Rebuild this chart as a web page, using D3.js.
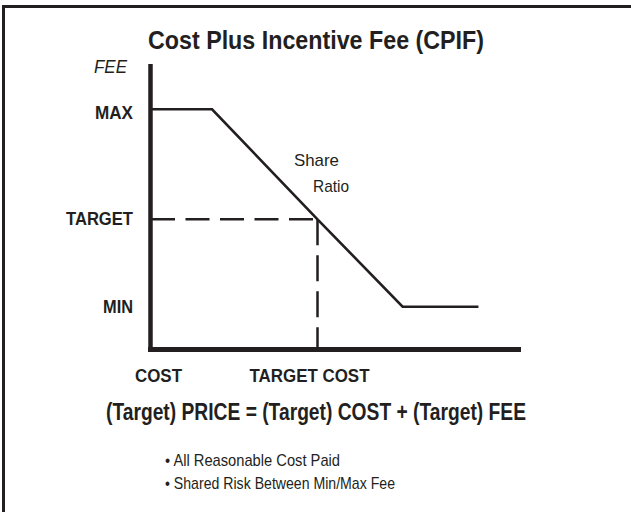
<!DOCTYPE html>
<html>
<head>
<meta charset="utf-8">
<script src="https://cdn.jsdelivr.net/npm/d3@7"></script>
<style>
  body { margin: 0; background: #fff; }
  svg { display: block; }
  text { font-family: "Liberation Sans Narrow", "Arial Narrow", "Liberation Sans", Arial, sans-serif; fill: #231f20; }
</style>
</head>
<body>
<div id="chart"></div>
<script>
// fee curve: cost (0-100) vs fee (0-100)
const curveCost = [0, 16.5, 45, 68, 88.5];
const curveFee = [85, 85, 46, 15, 15];
const feeLevels = ["MAX", "TARGET", "MIN"];
const feeValues = [85, 46, 15];
const costLabels = ["COST", "TARGET COST"];
const costValues = [0, 45];
const targetCost = 45;
const targetFee = 46;
const bullets = ["All Reasonable Cost Paid", "Shared Risk Between Min/Max Fee"];

const width = 631, height = 512;
const ink = "#231f20";

const svg = d3.select("#chart").append("svg")
  .attr("width", width)
  .attr("height", height);

// squeeze text to the condensed face of the original
function fit(sel, len) {
  sel.attr("textLength", len).attr("lengthAdjust", "spacingAndGlyphs");
  return sel;
}

// frame (only top and left edges show in the picture)
svg.append("rect")
  .attr("x", 3.5).attr("y", 6.5)
  .attr("width", 700).attr("height", 600)
  .attr("fill", "none").attr("stroke", ink).attr("stroke-width", 3);

const x = d3.scaleLinear().domain([0, 100]).range([151, 521]);
const y = d3.scaleLinear().domain([0, 100]).range([349, 67]);

fit(svg.append("text")
  .attr("x", 148).attr("y", 49)
  .attr("font-size", 25).attr("font-weight", "bold")
  .text("Cost Plus Incentive Fee (CPIF)"), 336);

fit(svg.append("text")
  .attr("x", 94).attr("y", 73)
  .attr("font-size", 18).attr("font-style", "italic")
  .text("FEE"), 33);

// dashed target guides
svg.append("line")
  .attr("x1", x(0)).attr("x2", x(targetCost))
  .attr("y1", y(targetFee)).attr("y2", y(targetFee))
  .attr("stroke", ink).attr("stroke-width", 2.5)
  .attr("stroke-dasharray", "24,10.5");
svg.append("line")
  .attr("x1", x(targetCost)).attr("x2", x(targetCost))
  .attr("y1", y(targetFee)).attr("y2", y(0) + 3)
  .attr("stroke", ink).attr("stroke-width", 2.5)
  .attr("stroke-dasharray", "26,10");

// curve
const line = d3.line().x(d => x(d[0])).y(d => y(d[1]));
svg.append("path")
  .datum(curveCost.map((c, i) => [c, curveFee[i]]))
  .attr("d", line)
  .attr("fill", "none").attr("stroke", ink).attr("stroke-width", 2.6);

// axes
svg.append("line")
  .attr("x1", x(0) - 0.5).attr("x2", x(0) - 0.5)
  .attr("y1", y(100) - 3).attr("y2", y(0) + 3)
  .attr("stroke", ink).attr("stroke-width", 4.5);
svg.append("line")
  .attr("x1", x(0) - 3).attr("x2", x(100))
  .attr("y1", y(0) + 0.5).attr("y2", y(0) + 0.5)
  .attr("stroke", ink).attr("stroke-width", 5);

const feeWidths = [38, 67, 30];
const feeOffsets = [10, 6, 6];
svg.selectAll(".fee-label")
  .data(feeLevels)
  .enter().append("text")
  .attr("class", "fee-label")
  .attr("x", (d, i) => 133 - feeWidths[i])
  .attr("y", (d, i) => y(feeValues[i]) + feeOffsets[i])
  .attr("font-size", 18).attr("font-weight", "bold")
  .attr("textLength", (d, i) => feeWidths[i])
  .attr("lengthAdjust", "spacingAndGlyphs")
  .text(d => d);

const costWidths = [47, 120];
const costOffsets = [-16, -68];
svg.selectAll(".cost-label")
  .data(costLabels)
  .enter().append("text")
  .attr("class", "cost-label")
  .attr("x", (d, i) => x(costValues[i]) + costOffsets[i])
  .attr("y", 382)
  .attr("font-size", 18).attr("font-weight", "bold")
  .attr("textLength", (d, i) => costWidths[i])
  .attr("lengthAdjust", "spacingAndGlyphs")
  .text(d => d);

fit(svg.append("text")
  .attr("x", 294).attr("y", 166)
  .attr("font-size", 17)
  .text("Share"), 45);
fit(svg.append("text")
  .attr("x", 313).attr("y", 192)
  .attr("font-size", 17)
  .text("Ratio"), 36);

fit(svg.append("text")
  .attr("x", 106).attr("y", 420)
  .attr("font-size", 23).attr("font-weight", "bold")
  .text("(Target) PRICE = (Target) COST + (Target) FEE"), 420);

const bulletWidths = [175, 230];
svg.selectAll(".bullet")
  .data(bullets)
  .enter().append("text")
  .attr("class", "bullet")
  .attr("x", 165)
  .attr("y", (d, i) => 466 + i * 23)
  .attr("font-size", 17)
  .attr("textLength", (d, i) => bulletWidths[i])
  .attr("lengthAdjust", "spacingAndGlyphs")
  .text(d => "\u2022 " + d);
</script>
</body>
</html>
